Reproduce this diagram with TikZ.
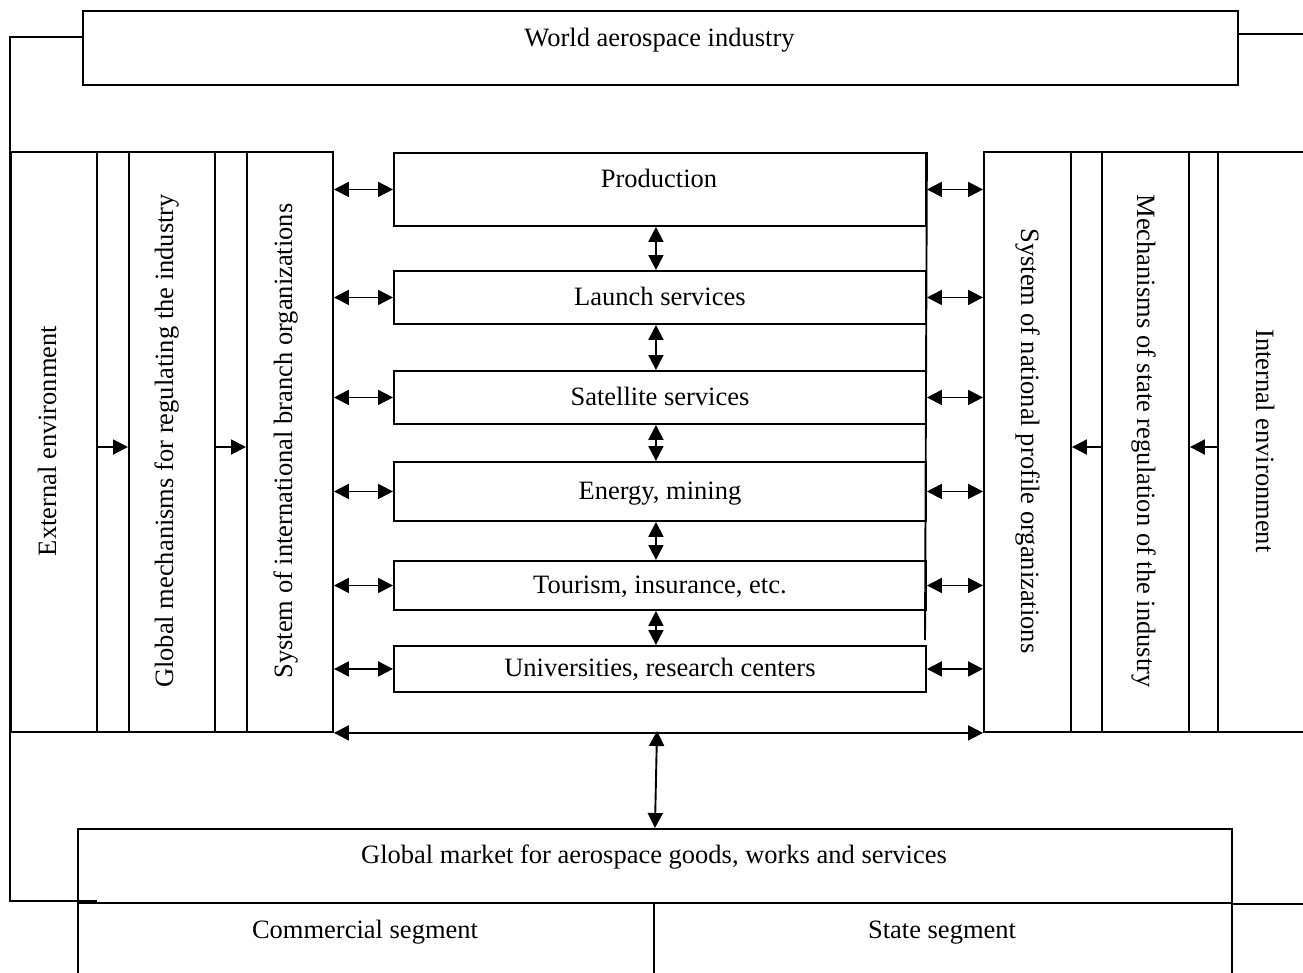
\documentclass[tikz,border=0pt]{standalone}
\usepackage{fontspec}
\setmainfont{Liberation Serif}
\usetikzlibrary{arrows.meta}
\newcommand\bx[6]{\node[frame, minimum width=#4-#2, minimum height=#5-#3] (#1) at (#2,#3) {#6};}
\begin{document}
\begin{tikzpicture}[x=1pt,y=-1pt,
  lw/.style={line width=1.9pt},
  txt/.style={font=\fontsize{26.5}{32}\selectfont, inner sep=0pt, text height=20pt, text depth=4pt},
  frame/.style={draw, line width=1.9pt, rectangle, inner sep=0pt, anchor=north west, txt},
  darr/.style={lw, {Triangle[length=15pt,width=15pt]}-{Triangle[length=15pt,width=15pt]}},
  sarr/.style={lw, -{Triangle[length=15pt,width=15pt]}}]
\useasboundingbox (0,0) rectangle (1303,972);
\clip (0,0) rectangle (1303,972);
% top box
\bx{world}{82}{10}{1237}{84}{}
\node[txt] (worldt) at (659.5,38) {World aerospace industry};
% left columns
\bx{ext}{10}{151}{96}{731}{}
\bx{sa}{96}{151}{128}{731}{}
\bx{gm}{128}{151}{214}{731}{}
\bx{sb}{214}{151}{246}{731}{}
\bx{sysi}{246}{151}{332}{731}{}
% right columns
\bx{sysn}{983}{151}{1070}{731}{}
\bx{sc}{1070}{151}{1101}{731}{}
\bx{mech}{1101}{151}{1188}{731}{}
\bx{sd}{1188}{151}{1217}{731}{}
\bx{intc}{1217}{151}{1340}{731}{}
% rotated texts
\node[txt, rotate=90] (extt) at (48,441) {External environment};
\node[txt, rotate=90] (gmt) at (165,441) {Global mechanisms for regulating the industry};
\node[txt, rotate=90] (sysit) at (284,441) {System of international branch organizations};
\node[txt, rotate=-90] (sysnt) at (1029,441) {System of national profile organizations};
\node[txt, rotate=-90] (mecht) at (1145,441) {Mechanisms of state regulation of the industry};
\node[txt, rotate=-90] (intt) at (1264,441) {Internal environment};
% centre boxes
\bx{prod}{393}{152}{925}{225}{}
\node[txt] (prodt) at (659,179) {Production};
\bx{launch}{393}{270}{925}{323}{Launch services}
\bx{sat}{393}{370}{925}{423}{Satellite services}
\bx{energy}{393}{461}{925}{520}{Energy, mining}
\bx{tour}{393}{560}{925}{609}{Tourism, insurance, etc.}
\bx{univ}{393}{645}{925}{691}{Universities, research centers}
\coordinate (rl) at (925,640);
\draw[lw] (prod.north east) -- (rl);
% horizontal arrows
\foreach \b in {prod,launch,sat,energy,tour,univ}{
  \draw[darr] (sysi.east |- \b.west) -- (\b.west);
  \draw[darr] (\b.east) -- (sysn.west |- \b.east);
}
% vertical arrows
\draw[darr] ([xshift=-4pt]prod.south) -- ([xshift=-4pt]launch.north);
\draw[darr] ([xshift=-4pt]launch.south) -- ([xshift=-4pt]sat.north);
\draw[darr] ([xshift=-4pt]sat.south) -- ([xshift=-4pt]energy.north);
\draw[darr] ([xshift=-4pt]energy.south) -- ([xshift=-4pt]tour.north);
\draw[darr] ([xshift=-4pt]tour.south) -- ([xshift=-4pt]univ.north);
% small arrows
\coordinate (ya) at (0,447);
\draw[sarr] (ext.east |- ya) -- (gm.west |- ya);
\draw[sarr] (gm.east |- ya) -- (sysi.west |- ya);
\draw[sarr] (intc.west |- ya) -- (mech.east |- ya);
\draw[sarr] (mech.west |- ya) -- (sysn.east |- ya);
% bottom arrow
\draw[darr] (sysi.south east) -- (sysn.south west);
% market
\bx{market}{77}{828}{1231}{902}{}
\node[txt] (markett) at (654,855) {Global market for aerospace goods, works and services};
\coordinate (mb) at (657,731);
\draw[darr] (mb) -- (market.north);
\bx{comm}{77}{902}{653}{1000}{}
\node[txt] (commt) at (365,930) {Commercial segment};
\bx{state}{653}{902}{1231}{1000}{}
\node[txt] (statet) at (942,930) {State segment};
% outer frame
\coordinate (f1) at (82,37);
\coordinate (f2) at (10,37);
\coordinate (f3) at (10,901);
\coordinate (f4) at (97,901);
\draw[lw] (f1) -- (f2) -- (f3) -- (f4);
\coordinate (f5) at (1237,34);
\coordinate (f6) at (1310,34);
\draw[lw] (f5) -- (f6);
\draw[lw] (market.south east) -- ++(90,0);
\end{tikzpicture}
\end{document}
